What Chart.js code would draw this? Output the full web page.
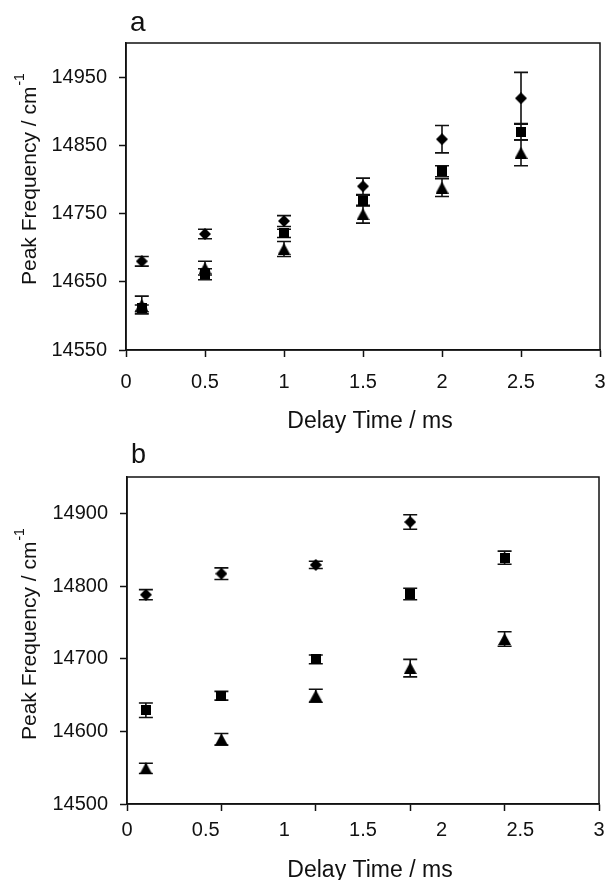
<!DOCTYPE html>
<html>
<head>
<meta charset="utf-8">
<script src="https://cdn.jsdelivr.net/npm/chart.js@4.4.1/dist/chart.umd.min.js"></script>
<style>
  body { margin: 0; background: #fff; }
  .panel { position: absolute; left: 0; }
  #chart-a { top: 0; }
  #chart-b { top: 440px; }
</style>
</head>
<body>
<canvas id="chart-a" class="panel" width="609" height="440"></canvas>
<canvas id="chart-b" class="panel" width="609" height="440"></canvas>
<script>
// panel a
const delayA = [0.1, 0.5, 1.0, 1.5, 2.0, 2.5];
const diamondA = [14680, 14720, 14739, 14790, 14859, 14919];
const diamondErrA = [7, 7, 8, 12, 20, 38];
const squareA = [14611, 14661, 14721, 14769, 14812, 14870];
const squareErrA = [5, 8, 6, 8, 8, 12];
const triangleA = [14616, 14670, 14698, 14749, 14788, 14839];
const triangleErrA = [13, 10, 11, 13, 13, 19];
const yTicksA = [14550, 14650, 14750, 14850, 14950];
const xTicksA = [0, 0.5, 1, 1.5, 2, 2.5, 3];

// panel b
const delayB = [0.12, 0.6, 1.2, 1.8, 2.4];
const diamondB = [14788, 14817, 14829, 14888, null];
const diamondErrB = [7, 8, 5, 10, null];
const squareB = [14629, 14649, 14699, 14789, 14839];
const squareErrB = [10, 6, 6, 8, 9];
const triangleB = [14549, 14589, 14649, 14687, 14727];
const triangleErrB = [7, 8, 9, 12, 10];
const yTicksB = [14500, 14600, 14700, 14800, 14900];
const xLabelsB = [0, 0.5, 1, 1.5, 2, 2.5, 3];
const xMarksB = [0, 0.6, 1.2, 1.8, 2.4, 3];

const INK = '#111';
const FONT = '"Liberation Sans", Arial, sans-serif';
const CAP = 7;

// small canvases used as point styles so every marker is centred on its value
function marker(shape) {
  const c = document.createElement('canvas');
  const g = c.getContext('2d');
  if (shape === 'diamond') {
    c.width = 12; c.height = 12;
    g.fillStyle = '#000';
    g.beginPath();
    g.moveTo(6, 0); g.lineTo(12, 6); g.lineTo(6, 12); g.lineTo(0, 6);
    g.closePath(); g.fill();
  } else if (shape === 'square') {
    c.width = 10; c.height = 10;
    g.fillStyle = '#000';
    g.fillRect(0, 0, 10, 10);
  } else {
    c.width = 13; c.height = 12;
    g.fillStyle = '#000';
    g.beginPath();
    g.moveTo(6.5, 0); g.lineTo(13, 12); g.lineTo(0, 12);
    g.closePath(); g.fill();
  }
  return c;
}

function points(xs, ys, errs) {
  const out = [];
  xs.forEach((x, i) => {
    if (ys[i] !== null) out.push({x: x, y: ys[i], err: errs[i]});
  });
  return out;
}

function series(xs, ys, errs, shape) {
  return {
    data: points(xs, ys, errs),
    showLine: false,
    pointStyle: marker(shape),
    pointRadius: 6,
    pointHoverRadius: 6
  };
}

const errorBars = {
  id: 'errorBars',
  beforeDatasetsDraw(chart) {
    const {ctx, scales: {x, y}} = chart;
    ctx.save();
    ctx.strokeStyle = INK;
    ctx.lineWidth = 1.6;
    chart.data.datasets.forEach(ds => {
      ds.data.forEach(p => {
        const px = x.getPixelForValue(p.x);
        const top = y.getPixelForValue(p.y + p.err);
        const bot = y.getPixelForValue(p.y - p.err);
        ctx.beginPath();
        ctx.moveTo(px, top); ctx.lineTo(px, bot);
        ctx.moveTo(px - CAP, top); ctx.lineTo(px + CAP, top);
        ctx.moveTo(px - CAP, bot); ctx.lineTo(px + CAP, bot);
        ctx.stroke();
      });
    });
    ctx.restore();
  }
};

// plot frame, panel letter and axis titles
const decorations = {
  id: 'decorations',
  afterDraw(chart, args, opts) {
    const {ctx, chartArea: a} = chart;
    ctx.save();
    ctx.strokeStyle = INK;
    ctx.lineWidth = 1.5;
    ctx.strokeRect(a.left, a.top, a.right - a.left, a.bottom - a.top);

    ctx.fillStyle = INK;
    ctx.textBaseline = 'alphabetic';
    ctx.textAlign = 'left';
    ctx.font = opts.letterSize + 'px ' + FONT;
    ctx.fillText(opts.letter, a.left + 4, opts.letterY);

    ctx.textAlign = 'center';
    ctx.font = '23px ' + FONT;
    ctx.fillText('Delay Time / ms', opts.xTitleX, opts.xTitleY);

    ctx.translate(36, opts.yTitleStart);
    ctx.rotate(-Math.PI / 2);
    ctx.textAlign = 'left';
    ctx.font = '21px ' + FONT;
    const main = 'Peak Frequency / cm';
    ctx.fillText(main, 0, 0);
    const w = ctx.measureText(main).width;
    ctx.font = '14px ' + FONT;
    ctx.fillText('-1', w + 1, -12);
    ctx.restore();
  }
};

function yScale(min, max, ticks) {
  return {
    min: min,
    max: max,
    afterBuildTicks: s => { s.ticks = ticks.map(v => ({value: v})); },
    afterFit: s => { s.width = 74; s.paddingTop = 0; s.paddingBottom = 0; },
    ticks: {
      color: INK,
      font: {family: FONT, size: 20},
      padding: 12,
      callback: v => String(v)
    },
    grid: {drawOnChartArea: false, tickLength: 7, tickColor: INK, tickWidth: 1.5},
    border: {color: INK, width: 1.5}
  };
}

function xFit(height) {
  // labels may spill past the plot edges; keep the layout padding in charge
  return s => { s.height = height; s.paddingLeft = 0; s.paddingRight = 0; };
}

new Chart(document.getElementById('chart-a'), {
  type: 'scatter',
  data: {
    datasets: [
      series(delayA, diamondA, diamondErrA, 'diamond'),
      series(delayA, squareA, squareErrA, 'square'),
      series(delayA, triangleA, triangleErrA, 'triangle')
    ]
  },
  options: {
    responsive: false,
    animation: false,
    events: [],
    layout: {padding: {left: 52, right: 9, top: 43, bottom: 0}},
    scales: {
      x: {
        min: 0,
        max: 3,
        afterBuildTicks: s => { s.ticks = xTicksA.map(v => ({value: v})); },
        afterFit: xFit(90),
        ticks: {
          color: INK,
          font: {family: FONT, size: 20},
          padding: 13,
          maxRotation: 0,
          autoSkip: false,
          callback: v => String(v)
        },
        grid: {drawOnChartArea: false, tickLength: 7, tickColor: INK, tickWidth: 1.5},
        border: {color: INK, width: 1.5}
      },
      y: yScale(14550, 15000, yTicksA)
    },
    plugins: {
      legend: {display: false},
      tooltip: {enabled: false},
      decorations: {letter: 'a', letterSize: 28, letterY: 31, xTitleX: 370, xTitleY: 428, yTitleStart: 285}
    }
  },
  plugins: [errorBars, decorations]
});

// panel b: tick marks and number labels sit at different steps
const xAllB = Array.from(new Set(xLabelsB.concat(xMarksB))).sort((p, q) => p - q);

new Chart(document.getElementById('chart-b'), {
  type: 'scatter',
  data: {
    datasets: [
      series(delayB, diamondB, diamondErrB, 'diamond'),
      series(delayB, squareB, squareErrB, 'square'),
      series(delayB, triangleB, triangleErrB, 'triangle')
    ]
  },
  options: {
    responsive: false,
    animation: false,
    events: [],
    layout: {padding: {left: 53, right: 10, top: 37, bottom: 0}},
    scales: {
      x: {
        min: 0,
        max: 3,
        afterBuildTicks: s => { s.ticks = xAllB.map(v => ({value: v})); },
        afterFit: xFit(76),
        ticks: {
          color: INK,
          font: {family: FONT, size: 20},
          padding: 7,
          maxRotation: 0,
          autoSkip: false,
          callback: v => xLabelsB.includes(v) ? String(v) : ''
        },
        grid: {
          drawOnChartArea: false,
          tickLength: 7,
          tickWidth: 1.5,
          tickColor: c => (c.tick && xMarksB.includes(c.tick.value)) ? INK : 'rgba(0,0,0,0)'
        },
        border: {color: INK, width: 1.5}
      },
      y: yScale(14500, 14950, yTicksB)
    },
    plugins: {
      legend: {display: false},
      tooltip: {enabled: false},
      decorations: {letter: 'b', letterSize: 27, letterY: 23, xTitleX: 370, xTitleY: 437, yTitleStart: 300}
    }
  },
  plugins: [errorBars, decorations]
});
</script>
</body>
</html>
